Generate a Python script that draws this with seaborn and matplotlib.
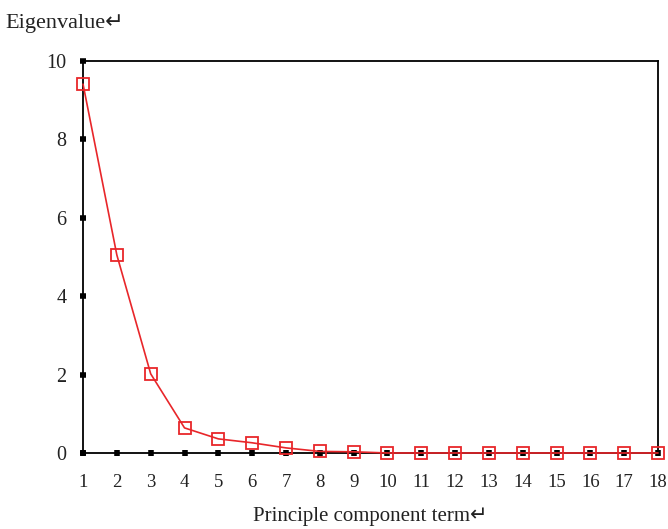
import numpy as np
import pandas as pd
import seaborn as sns
import matplotlib.pyplot as plt

# eigenvalue per principal component
components = list(range(1, 19))
eigenvalues = [9.41, 5.05, 2.02, 0.64, 0.36, 0.26, 0.13, 0.04, 0.03,
               0.0, 0.0, 0.0, 0.0, 0.0, 0.0, 0.0, 0.0, 0.0]
y_ticks = [0, 2, 4, 6, 8, 10]

df = pd.DataFrame({'component': components, 'eigenvalue': eigenvalues})

sns.set_style('white')
plt.rcParams['font.family'] = ['Liberation Serif', 'DejaVu Sans']

fig = plt.figure(figsize=(6.68, 5.29), dpi=100)
ax = fig.add_axes([0.1243, 0.1437, 0.8608, 0.741])

sns.lineplot(data=df, x='component', y='eigenvalue', ax=ax, color='#e8262a',
             linewidth=1.2, marker='s', markersize=8, markerfacecolor='none',
             markeredgecolor='#e8262a', markeredgewidth=1.3, clip_on=False, zorder=3)

ax.set_xlim(1, 18)
ax.set_ylim(0, 10)
ax.set_xticks(components)
ax.set_yticks(y_ticks)
ax.tick_params(axis='both', bottom=True, left=True, direction='inout', length=4,
               width=4, color='black', labelcolor='#222222')
ax.tick_params(axis='x', pad=13, labelsize=13.5)
ax.tick_params(axis='y', pad=10, labelsize=14.5)
for s in ax.spines.values():
    s.set_color('black')
    s.set_linewidth(1.3)

ax.set_xlabel('Principle component term\u21b5', fontsize=15, color='#222222', labelpad=12)
ax.set_ylabel('')
fig.text(0.008, 0.955, 'Eigenvalue\u21b5', fontsize=16, color='#222222', ha='left', va='center')

plt.savefig('out.png', dpi=100)
